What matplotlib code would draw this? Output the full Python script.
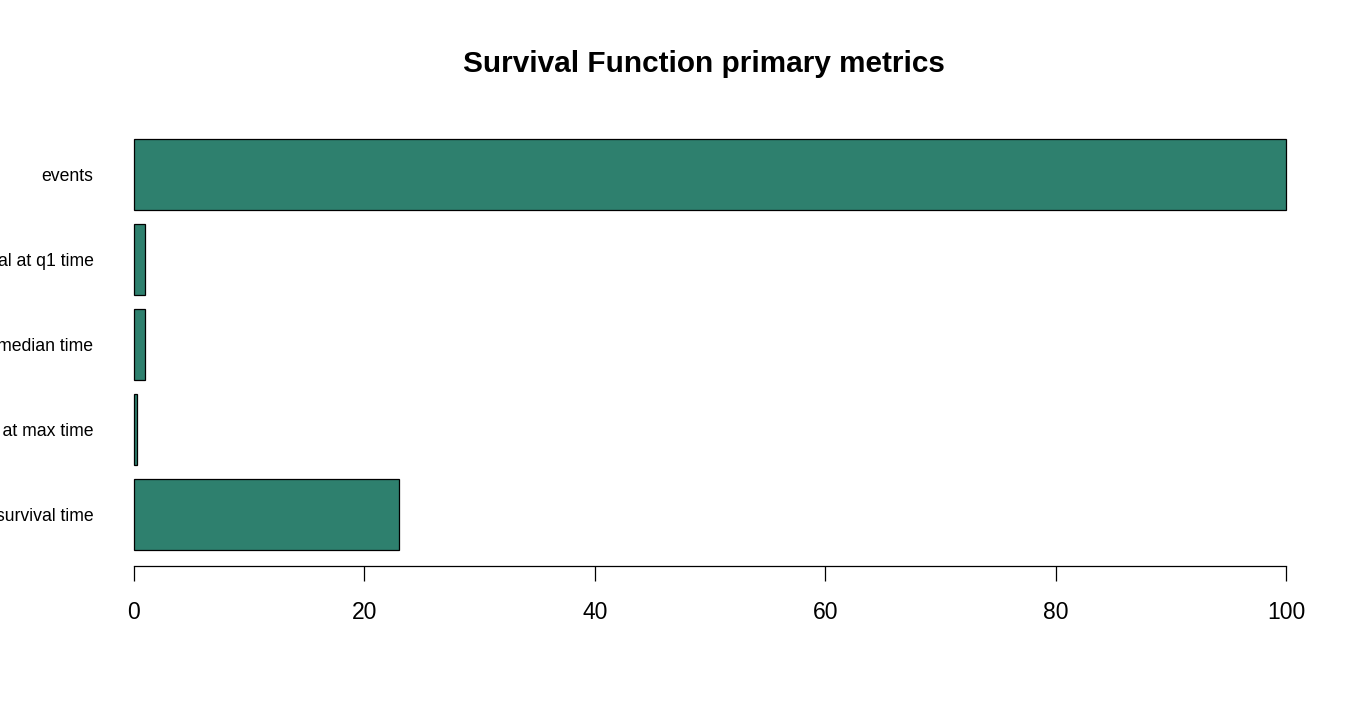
import matplotlib
matplotlib.use('Agg')
import matplotlib.pyplot as plt

plt.rcParams['font.family'] = ['Liberation Sans', 'DejaVu Sans']

# bars listed bottom to top, as R's barplot(horiz=TRUE) draws them
labels = ['mean survival time', 'survival at max time', 'survival at median time',
          'survival at q1 time', 'events']
values = [23.0, 0.3, 0.95, 0.95, 100]
xticks = [0, 20, 40, 60, 80, 100]

fig = plt.figure(figsize=(13.5, 7.2), dpi=100)
ax = fig.add_axes([0.0651, 0.2133, 0.9216, 0.6164])

ypos = [0.7 + 1.2 * i for i in range(len(values))]
ax.barh(ypos, values, height=1.0, color='#2E806E', edgecolor='black', linewidth=0.9)

ax.set_xlim(-4, 104)
ax.set_ylim(-0.032, 6.232)

# category names sit just right of the plot edge and run off the left of the figure, as in the original
ax.set_yticks(ypos)
ax.set_yticklabels(labels, fontsize=12.7)
ax.tick_params(axis='y', length=0, pad=-4)

ax.set_xticks(xticks)
ax.set_xticklabels([str(t) for t in xticks], fontsize=16.5)
ax.tick_params(axis='x', length=11, width=0.9, pad=14)

for side in ['top', 'right', 'left']:
    ax.spines[side].set_visible(False)
ax.spines['bottom'].set_bounds(0, 100)
ax.spines['bottom'].set_linewidth(0.9)

fig.text(703.5 / 1350, 1 - 64.5 / 720, 'Survival Function primary metrics',
         ha='center', va='center', fontsize=21.45, fontweight='bold')

fig.savefig('out.png', dpi=100)
